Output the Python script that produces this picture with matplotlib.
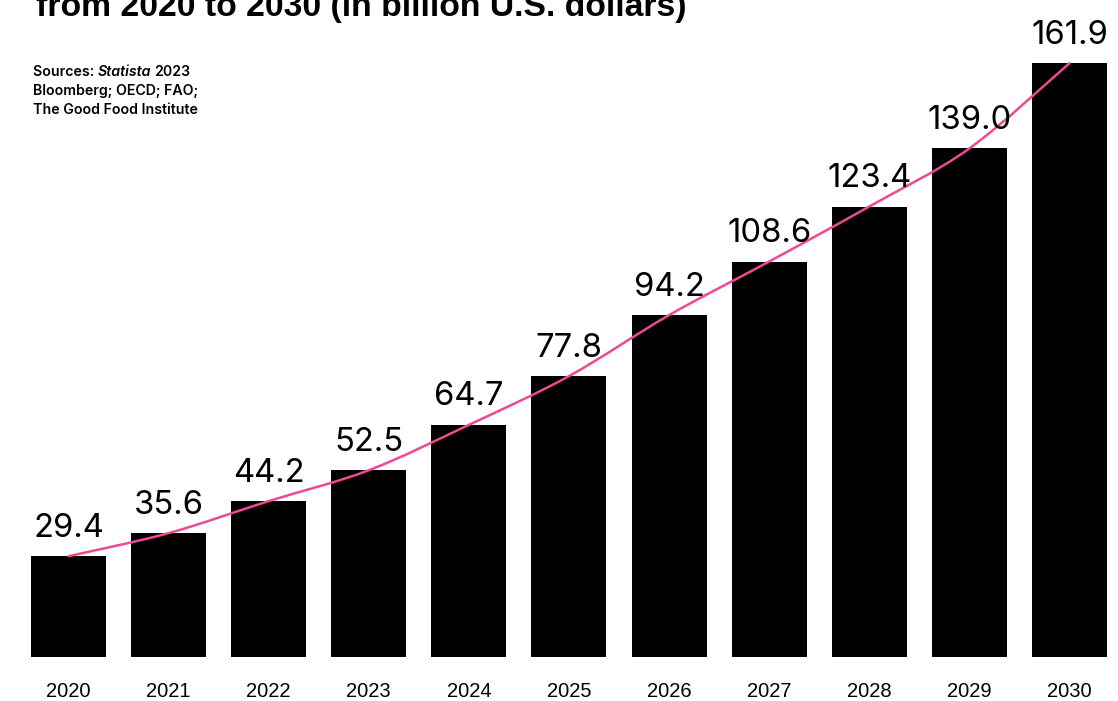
import matplotlib
matplotlib.use("Agg")
import matplotlib.pyplot as plt
from matplotlib.path import Path
from matplotlib.patches import PathPatch

years = ["2020", "2021", "2022", "2023", "2024", "2025",
         "2026", "2027", "2028", "2029", "2030"]
values = [29.4, 35.6, 44.2, 52.5, 64.7, 77.8, 94.2, 108.6, 123.4, 139.0, 161.9]

title = "from 2020 to 2030 (in billion U.S. dollars)"
source_lines = ["Bloomberg; OECD; FAO;", "The Good Food Institute"]

plt.rcParams["font.family"] = ["Liberation Sans", "DejaVu Sans"]

W, H = 1118, 701
fig = plt.figure(figsize=(W / 100, H / 100), dpi=100)
fig.patch.set_facecolor("white")

y_lo, y_hi = 2.3, 170
ax = fig.add_axes([18.45 / W, 44 / H, 1101 / W, (y_hi - y_lo) * 3.72 / H])
x = list(range(len(years)))
ax.bar(x, values, width=0.75, color="black", zorder=2)

# smooth trend curve through the bar tops (Catmull-Rom as cubic Beziers)
pts = list(zip(x, values))
verts = [pts[0]]
codes = [Path.MOVETO]
for i in range(len(pts) - 1):
    p0 = pts[max(i - 1, 0)]
    p1 = pts[i]
    p2 = pts[i + 1]
    p3 = pts[min(i + 2, len(pts) - 1)]
    c1 = (p1[0] + (p2[0] - p0[0]) / 6, p1[1] + (p2[1] - p0[1]) / 6)
    c2 = (p2[0] - (p3[0] - p1[0]) / 6, p2[1] - (p3[1] - p1[1]) / 6)
    verts += [c1, c2, p2]
    codes += [Path.CURVE4] * 3
ax.add_patch(PathPatch(Path(verts, codes), facecolor="none", edgecolor="#EC4A93",
                       lw=1.8, zorder=3, capstyle="round"))

for xi, v in zip(x, values):
    ax.annotate(f"{v:.1f}", (xi, v), xytext=(0, 14), textcoords="offset points",
                ha="center", va="baseline", fontsize=23.6, color="black",
                family=["Inter", "DejaVu Sans"], fontweight="normal")

ax.set_xlim(-0.5, 10.5)
ax.set_ylim(y_lo, y_hi)
ax.set_xticks(x)
ax.set_xticklabels(years, fontsize=14.5)
ax.tick_params(axis="x", length=0, pad=18)
ax.set_yticks([])
for s in ax.spines.values():
    s.set_visible(False)

# Title (runs off the top edge)
fig.text(36 / W, 1 - 16 / H, title, fontsize=24.3, fontweight="bold",
         ha="left", va="baseline")

# Source note
fs = 10.2
src_font = dict(fontsize=fs, fontweight="semibold", family=["Inter", "DejaVu Sans"],
                ha="left", va="baseline")
y0 = 1 - 76.5 / H
r = fig.canvas.get_renderer()
t1 = fig.text(33 / W, y0, "Sources: ", **src_font)
bb = t1.get_window_extent(r)
t2 = fig.text(bb.x1 / W, y0, "Statista", style="italic", **src_font)
bb2 = t2.get_window_extent(r)
fig.text(bb2.x1 / W + 3 / W, y0, "2023", **src_font)
for i, line in enumerate(source_lines):
    fig.text(33 / W, y0 - (i + 1) * 18.5 / H, line, **src_font)

fig.savefig("out.png", dpi=100, facecolor="white")
